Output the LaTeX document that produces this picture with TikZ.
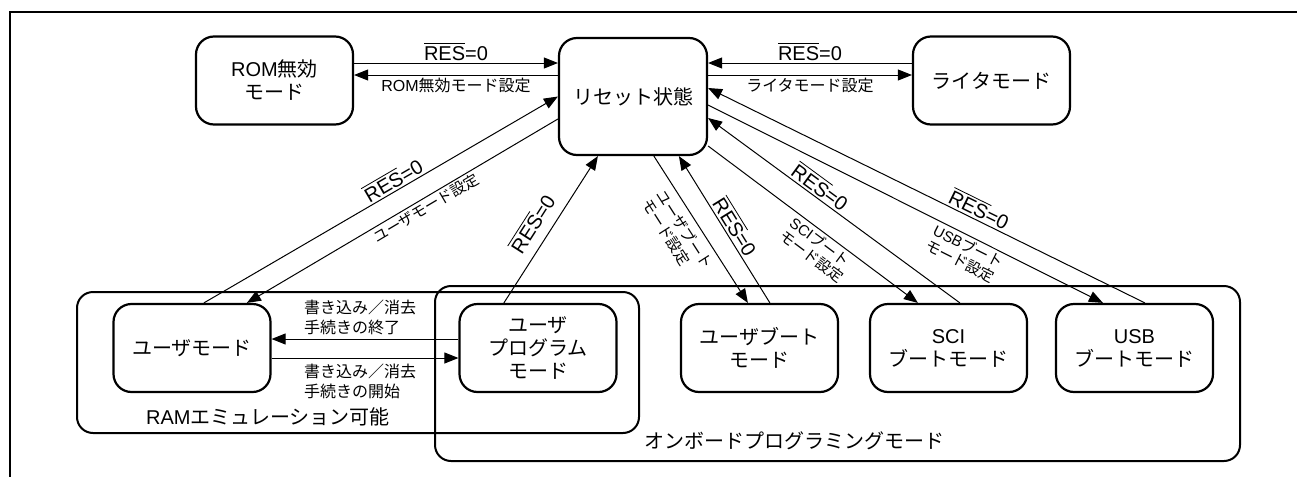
\documentclass[tikz,border=0pt]{standalone}
\usepackage{fontspec}
\setmainfont{Liberation Sans}
\newfontfamily\jp{Noto Sans CJK JP}
\newfontfamily\lat{Liberation Sans}
\usetikzlibrary{arrows.meta,calc}
\newcommand\resz{{\lat$\overline{\hbox{\lat RES}}$=0}}
\begin{document}
\begin{tikzpicture}[x=0.5pt,y=-0.5pt,
  >={Triangle[length=7pt,width=5.5pt]},
  box/.style={draw, line width=1.1pt, rounded corners=9pt, inner sep=0pt, align=center,
    minimum width=78.5pt, minimum height=44pt, font=\jp\fontsize{10}{11.5}\selectfont},
  cont/.style={draw, line width=1pt, rounded corners=8pt, inner sep=0pt},
  conn/.style={line width=0.5pt},
  lbl/.style={font=\jp\fontsize{8}{10}\selectfont, inner sep=1.5pt, align=left},
  dlbl/.style={font=\jp\fontsize{7.5}{8.5}\selectfont, inner sep=1pt, align=left, sloped},
  rlbl/.style={font=\lat\fontsize{10}{12}\selectfont, inner sep=1pt},
  clbl/.style={font=\jp\fontsize{10}{12}\selectfont, inner sep=0pt}
]
\useasboundingbox (0,0) rectangle (1297,477);
% outer frame
\draw[line width=1pt] (1297,12) -- (10,12) -- (10,477);

% containers
\node[cont, minimum width=281pt, minimum height=70.5pt] (ram) at (358,362.5) {};
\node[cont, minimum width=402.5pt, minimum height=87.5pt] (onb) at (837.5,373.5) {};
\node[clbl] (ramlbl) at (268,417) {{\lat RAM}エミュレーション可能};
\node[clbl, anchor=west] (onblbl) at (644,441) {オンボードプログラミングモード};

% top nodes
\node[box] (rom) at (274.5,80.5) {{\lat ROM}無効\\モード};
\node[box, minimum width=74pt, minimum height=58.5pt] (reset) at (633,96.5) {リセット状態};
\node[box] (writer) at (991.5,80.5) {ライタモード};

% bottom nodes
\node[box] (um) at (192,348) {ユーザモード};
\node[box] (upm) at (538,348) {ユーザ\\プログラム\\モード};
\node[box] (ubm) at (759.5,348) {ユーザブート\\モード};
\node[box] (sci) at (948.5,348) {{\lat SCI}\\ブートモード};
\node[box] (usb) at (1134.5,348) {{\lat USB}\\ブートモード};

% horizontal connectors
\draw[conn,->] ($(rom.east)+(0,-17.5)$) -- node[rlbl, above] {\resz} ($(reset.west)+(0,-33.5)$);
\draw[conn,->] ($(reset.west)+(0,-21.5)$) -- node[lbl, below] {{\lat ROM}無効モード設定} ($(rom.east)+(0,-5.5)$);
\draw[conn,->] ($(writer.west)+(0,-17.5)$) -- node[rlbl, above] {\resz} ($(reset.east)+(0,-33.5)$);
\draw[conn,->] ($(reset.east)+(0,-21.5)$) -- node[lbl, below] {ライタモード設定} ($(writer.west)+(0,-5.5)$);

\draw[conn,->] ($(upm.west)+(0,-9)$) -- ($(um.east)+(0,-9)$);
\draw[conn,->] ($(um.east)+(0,10)$) -- ($(upm.west)+(0,10)$);
\node[lbl, anchor=west] (l1) at ($(um.east)+(29,-31)$) {書き込み／消去\\手続きの終了};
\node[lbl, anchor=west] (l2) at ($(um.east)+(29,33)$) {書き込み／消去\\手続きの開始};

% diagonal connectors
\draw[conn,->] ($(um.north west)+(91.5,0)$) -- node[rlbl, sloped, above, pos=0.55] {\resz} (reset.west);
\draw[conn,<-] ($(um.north west)+(134.5,0)$) -- node[dlbl, below, pos=0.56] {ユーザモード設定} ($(reset.west)+(0,22.5)$);
\draw[conn,->] ($(upm.north west)+(45.5,0)$) -- node[rlbl, sloped, above=4pt, pos=0.47] {\resz} ($(reset.south west)+(40,0)$);
\draw[conn,->] ($(reset.south west)+(96,0)$) -- node[dlbl, below=2pt, pos=0.45] {ユーザブート\\モード設定} ($(ubm.north west)+(68,0)$);
\draw[conn,<-] ($(reset.south west)+(121,0)$) -- node[rlbl, sloped, above, pos=0.52] {\resz} ($(ubm.north west)+(90,0)$);
\draw[conn,->] ($(reset.east)+(0,49.5)$) -- node[dlbl, below, pos=0.57] {{\lat SCI}ブート\\モード設定} ($(sci.north west)+(49,0)$);
\draw[conn,<-] ($(reset.east)+(0,21.5)$) -- node[rlbl, sloped, above, pos=0.42] {\resz} ($(sci.north west)+(91,0)$);
\draw[conn,->] ($(reset.east)+(0,8.5)$) -- node[dlbl, below, pos=0.67] {{\lat USB}ブート\\モード設定} ($(usb.north west)+(48,0)$);
\draw[conn,<-] ($(reset.east)+(0,-8.5)$) -- node[rlbl, sloped, above, pos=0.61] {\resz} ($(usb.north west)+(90,0)$);
\end{tikzpicture}
\end{document}
